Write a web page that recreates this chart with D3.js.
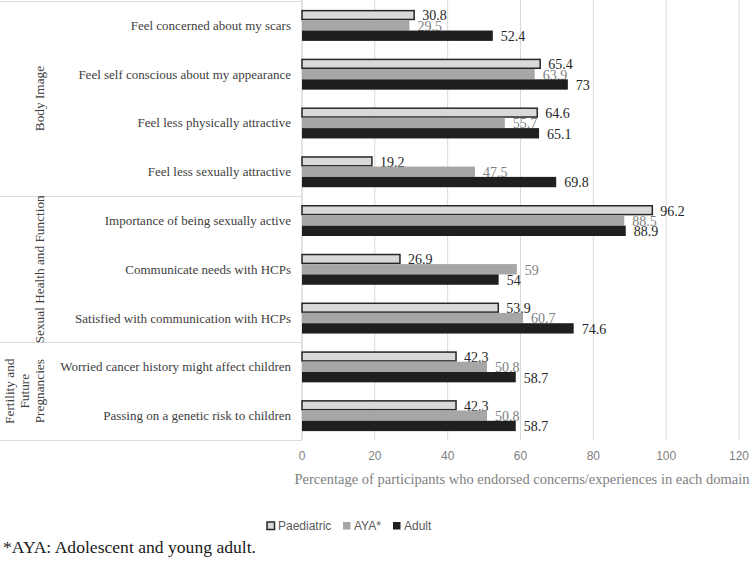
<!DOCTYPE html>
<html>
<head>
<meta charset="utf-8">
<script src="https://cdn.jsdelivr.net/npm/d3@7"></script>
<style>
  html, body { margin: 0; padding: 0; background: #fff; }
  svg { display: block; }
</style>
</head>
<body>
<svg id="chart" width="750" height="569"></svg>
<script>
const categories = [
  "Feel concerned about my scars",
  "Feel self conscious about my appearance",
  "Feel less physically attractive",
  "Feel less sexually attractive",
  "Importance of being sexually active",
  "Communicate needs with HCPs",
  "Satisfied with communication with HCPs",
  "Worried cancer history might affect children",
  "Passing on a genetic risk to children"
];
const seriesNames = ["Paediatric", "AYA*", "Adult"];
const paediatric = [30.8, 65.4, 64.6, 19.2, 96.2, 26.9, 53.9, 42.3, 42.3];
const aya        = [29.5, 63.9, 55.7, 47.5, 88.5, 59, 60.7, 50.8, 50.8];
const adult      = [52.4, 73, 65.1, 69.8, 88.9, 54, 74.6, 58.7, 58.7];
const xTicks = [0, 20, 40, 60, 80, 100, 120];
const groupNames = [["Body Image"], ["Sexual Health and Function"], ["Fertility and", "Future", "Pregnancies"]];
const groupSizes = [4, 3, 2];
const xTitle = "Percentage of participants who endorsed concerns/experiences in each domain";
const footnote = "*AYA: Adolescent and young adult.";

const seriesValues = [paediatric, aya, adult];
const fills = ["#d9d9d9", "#a6a6a6", "#1f1f1f"];
const strokes = ["#262626", "none", "none"];
const labelColors = ["#262626", "#7f7f7f", "#262626"];

const svg = d3.select("#chart");
const serif = "'Liberation Serif', 'Times New Roman', serif";
const sans = "'Liberation Sans', Arial, sans-serif";

const x = d3.scaleLinear().domain([0, 120]).range([302, 739]);
const y0 = d3.scaleBand().domain(categories).range([1, 440]).padding(0);
const y1 = d3.scaleBand().domain(seriesNames).range([0, y0.bandwidth()]).paddingInner(0).paddingOuter(0.86);

// gridlines
svg.append("g").selectAll("line").data(xTicks).join("line")
  .attr("x1", d => x(d)).attr("x2", d => x(d))
  .attr("y1", 0).attr("y2", 440)
  .attr("stroke", "#d9d9d9").attr("stroke-width", 1);

// category axis line
svg.append("line").attr("x1", 302).attr("x2", 302).attr("y1", 0).attr("y2", 440)
  .attr("stroke", "#d9d9d9");

// group boundaries
let idx = 0;
const bounds = [0];
groupSizes.forEach(s => { idx += s; bounds.push(idx); });
const boundY = bounds.map(i => i === categories.length ? y0.range()[1] : y0(categories[i]));
svg.append("g").selectAll("line").data(boundY).join("line")
  .attr("x1", 0).attr("x2", 302)
  .attr("y1", d => Math.round(d) + 0.5).attr("y2", d => Math.round(d) + 0.5)
  .attr("stroke", "#d9d9d9");

// group labels
groupNames.forEach((lines, gi) => {
  const cy = (boundY[gi] + boundY[gi + 1]) / 2;
  const n = lines.length;
  const lastX = 39;
  const t = svg.append("text")
    .attr("transform", `translate(${lastX - (n - 1) * 15},${cy}) rotate(-90)`)
    .attr("text-anchor", "middle")
    .attr("font-family", serif).attr("font-size", 13.3)
    .attr("fill", "#404040");
  lines.forEach((ln, li) => {
    t.append("tspan").attr("x", 0).attr("dy", li === 0 ? "0.35em" : 15).text(ln);
  });
});

// category labels
svg.append("g").selectAll("text").data(categories).join("text")
  .attr("x", 291).attr("y", d => y0(d) + y0.bandwidth() / 2)
  .attr("dy", "0.35em").attr("text-anchor", "end")
  .attr("font-family", serif).attr("font-size", 13)
  .attr("fill", "#404040").text(d => d);

// bars and labels, series by series
seriesNames.forEach((s, si) => {
  const vals = seriesValues[si];
  const g = svg.append("g");
  g.selectAll("rect").data(categories).join("rect")
    .attr("x", x(0))
    .attr("y", (c) => y0(c) + y1(s) + (si === 0 ? 0.75 : 0))
    .attr("width", (c, i) => x(vals[i]) - x(0))
    .attr("height", y1.bandwidth() - (si === 0 ? 1.5 : 0))
    .attr("fill", fills[si])
    .attr("stroke", strokes[si]).attr("stroke-width", 1.5);
  g.selectAll("text").data(categories).join("text")
    .attr("x", (c, i) => x(vals[i]) + 8)
    .attr("y", c => y0(c) + y1(s) + y1.bandwidth() / 2 + 0.5)
    .attr("dy", "0.35em")
    .attr("font-family", serif).attr("font-size", 14)
    .attr("fill", labelColors[si])
    .text((c, i) => vals[i]);
});

// x tick labels
svg.append("g").selectAll("text").data(xTicks).join("text")
  .attr("x", d => x(d)).attr("y", 456).attr("dy", "0.35em")
  .attr("text-anchor", "middle")
  .attr("font-family", sans).attr("font-size", 12)
  .attr("fill", "#7f7f7f").text(d => d);

// x title
svg.append("text").attr("x", 522).attr("y", 479).attr("dy", "0.35em")
  .attr("text-anchor", "middle")
  .attr("font-family", serif).attr("font-size", 14.5)
  .attr("fill", "#7f7f7f").text(xTitle);

// legend
const legendX = [267, 343, 393];
const lg = svg.append("g");
seriesNames.forEach((s, si) => {
  lg.append("rect").attr("x", legendX[si]).attr("y", 522).attr("width", 7.5).attr("height", 7.5)
    .attr("fill", fills[si])
    .attr("stroke", si === 0 ? "#262626" : "none").attr("stroke-width", 1.5);
  lg.append("text").attr("x", legendX[si] + 11).attr("y", 526).attr("dy", "0.35em")
    .attr("font-family", sans).attr("font-size", 12)
    .attr("fill", "#595959").text(s);
});

// footnote
svg.append("text").attr("x", 3).attr("y", 547).attr("dy", "0.35em")
  .attr("font-family", serif).attr("font-size", 17.6)
  .attr("fill", "#1a1a1a").text(footnote);
</script>
</body>
</html>
